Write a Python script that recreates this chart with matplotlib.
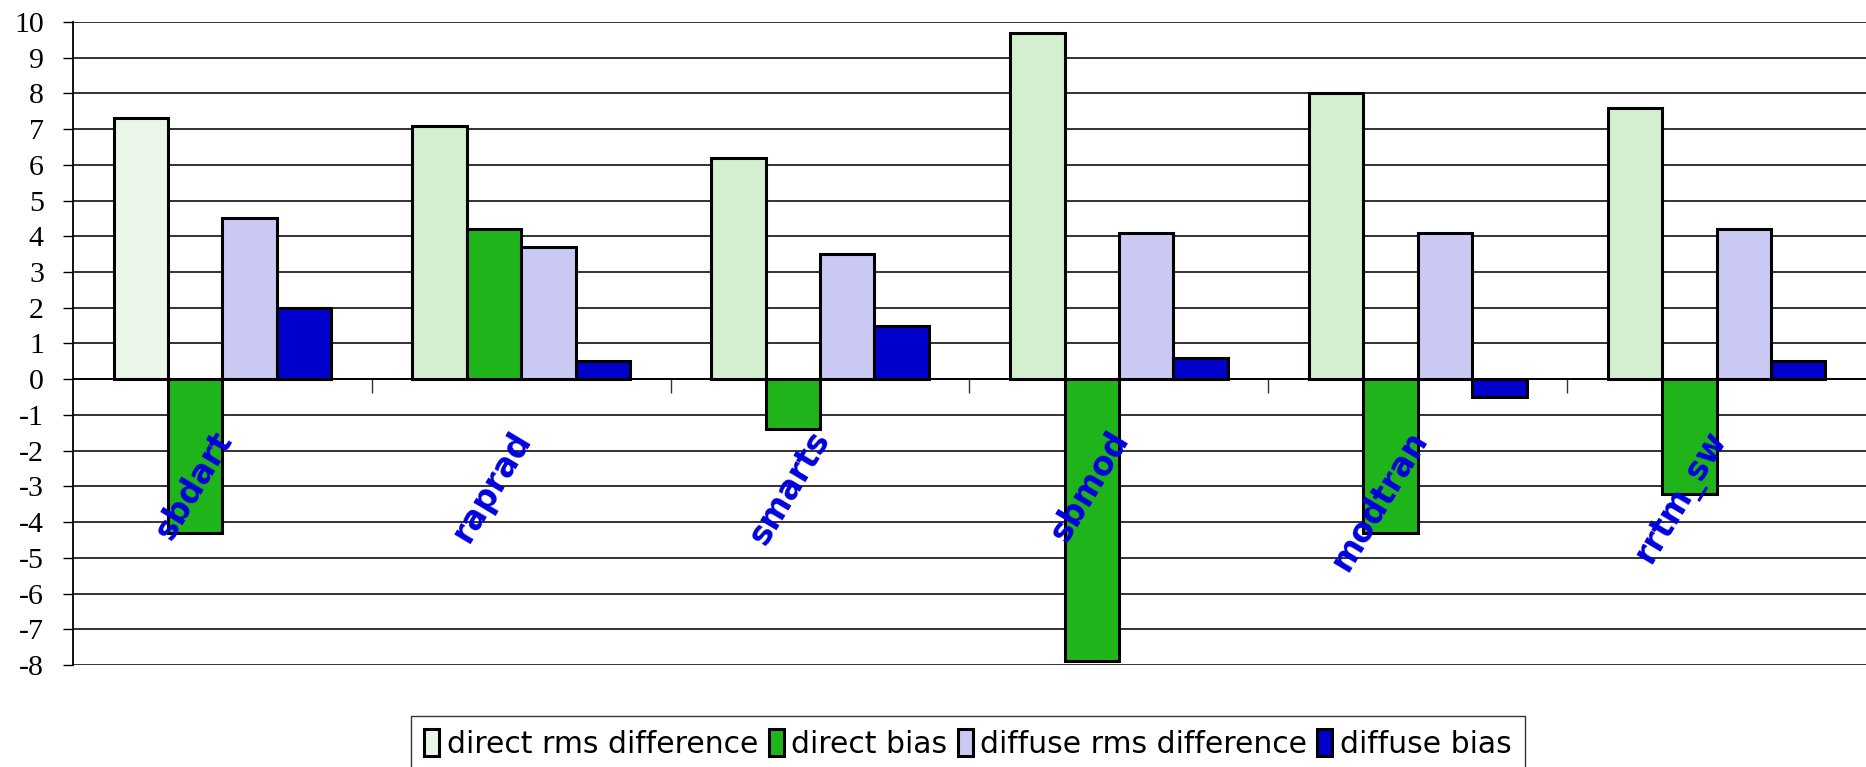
import matplotlib
matplotlib.use("Agg")
import matplotlib.pyplot as plt
import numpy as np

categories = ["sbdart", "raprad", "smarts", "sbmod", "modtran", "rrtm_sw"]
series_names = ["direct rms difference", "direct bias", "diffuse rms difference", "diffuse bias"]
direct_rms = [7.3, 7.1, 6.2, 9.7, 8.0, 7.6]
direct_bias = [-4.3, 4.2, -1.4, -7.9, -4.3, -3.2]
diffuse_rms = [4.5, 3.7, 3.5, 4.1, 4.1, 4.2]
diffuse_bias = [2.0, 0.5, 1.5, 0.6, -0.5, 0.5]
yticks = list(range(-8, 11))

colors = ["#d3efd0", "#1fb51a", "#c9c9f4", "#0000cc"]
series = [direct_rms, direct_bias, diffuse_rms, diffuse_bias]

W, H = 1866, 767
fig = plt.figure(figsize=(W / 100, H / 100), dpi=100)
ax = fig.add_axes([73 / W, 1 - 665 / H, 1 - 73 / W, (665 - 22) / H])

x = np.arange(len(categories))
bw = 0.182
containers = []
for k, (vals, col, name) in enumerate(zip(series, colors, series_names)):
    c = ax.bar(x + (k - 1.5) * bw, vals, width=bw, color=col, edgecolor="black",
               linewidth=2.2, label=name, zorder=3)
    containers.append(c)
# first pattern-filled bar renders lighter in the original
containers[0].patches[0].set_facecolor("#eaf6e8")

ax.set_xlim(-0.5, len(categories) - 0.5)
ax.set_ylim(-8, 10)
ax.set_yticks(yticks)
ax.set_yticklabels([str(t) for t in yticks], fontfamily="Liberation Serif", fontsize=21.5)
ax.yaxis.grid(True, color="#222222", linewidth=1.3, zorder=0)
ax.set_axisbelow(True)
ax.tick_params(axis="y", length=7, width=1.0, pad=14, color="black")

ax.set_xticks(np.arange(0.5, len(categories) - 0.5, 1.0))
ax.set_xticklabels([])
ax.tick_params(axis="x", length=10, width=1.0, direction="out", color="#333333")

ax.spines["top"].set_visible(False)
ax.spines["right"].set_visible(False)
ax.spines["bottom"].set_position(("data", 0))
ax.spines["bottom"].set_linewidth(1.3)
ax.spines["left"].set_linewidth(1.3)

for i, name in enumerate(categories):
    ax.text(i - 0.04, -1.3, name, rotation=59, rotation_mode="anchor",
            ha="right", va="top", color="#0000dd", fontsize=23.5,
            fontweight="bold", fontfamily="DejaVu Sans", zorder=5)

leg = fig.legend(loc="upper left", bbox_to_anchor=(411 / W, 1 - 716 / H), ncol=4,
                 frameon=True, fancybox=False, edgecolor="black", fontsize=21.5,
                 handlelength=0.5, handleheight=1.0, handletextpad=0.25,
                 columnspacing=0.35, borderpad=0.45, borderaxespad=0)
leg.get_frame().set_linewidth(1.0)

fig.savefig("out.png", dpi=100)
